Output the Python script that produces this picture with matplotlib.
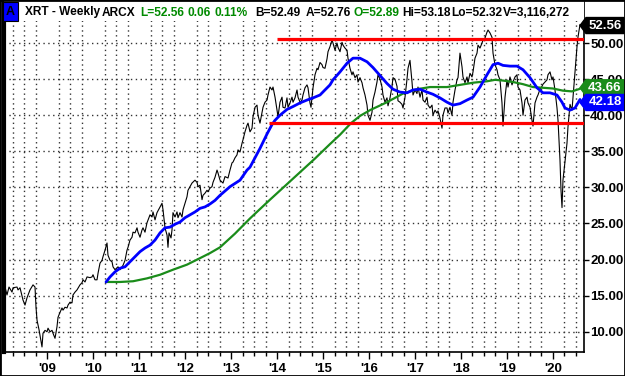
import matplotlib
matplotlib.use('Agg')
import matplotlib.pyplot as plt
from matplotlib.patches import Polygon, Rectangle
from matplotlib.transforms import IdentityTransform
from matplotlib.ticker import FixedLocator, FuncFormatter

# ---------------- data ----------------
ticker_title = "XRT - Weekly"
exchange = "ARCX"
last_close = 52.56
ma_blue_last = 42.18
ma_green_last = 43.66
resistance_level = 50.55
support_level = 38.9
resistance_start = 2014.0
support_start = 2013.83

header_tokens = ["L=52.56", "0.06", "0.11%", "B=52.49", "A=52.76", "O=52.89",
                 "Hi=53.18", "Lo=52.32", "V=3,116,272"]

price_t = [
    2008.065, 2008.087, 2008.130, 2008.174, 2008.239, 2008.261, 2008.348, 2008.370, 2008.413, 2008.478,
    2008.522, 2008.565, 2008.630, 2008.696, 2008.739, 2008.761, 2008.783, 2008.826, 2008.891, 2008.913,
    2008.957, 2009.000, 2009.022, 2009.065, 2009.109, 2009.130, 2009.174, 2009.217, 2009.239, 2009.283,
    2009.326, 2009.348, 2009.391, 2009.435, 2009.457, 2009.500, 2009.543, 2009.565, 2009.609, 2009.652,
    2009.717, 2009.761, 2009.783, 2009.826, 2009.870, 2009.935, 2009.978, 2010.000, 2010.043, 2010.087,
    2010.109, 2010.152, 2010.196, 2010.217, 2010.261, 2010.304, 2010.326, 2010.370, 2010.413, 2010.435,
    2010.478, 2010.543, 2010.587, 2010.630, 2010.652, 2010.696, 2010.739, 2010.761, 2010.804, 2010.848,
    2010.870, 2010.913, 2010.957, 2010.978, 2011.022, 2011.065, 2011.087, 2011.130, 2011.174, 2011.239,
    2011.283, 2011.304, 2011.348, 2011.391, 2011.457, 2011.500, 2011.522, 2011.565, 2011.609, 2011.630,
    2011.652, 2011.696, 2011.717, 2011.739, 2011.783, 2011.826, 2011.848, 2011.891, 2011.935, 2011.957,
    2012.000, 2012.043, 2012.065, 2012.109, 2012.152, 2012.217, 2012.261, 2012.283, 2012.326, 2012.370,
    2012.391, 2012.435, 2012.478, 2012.500, 2012.543, 2012.587, 2012.609, 2012.652, 2012.696, 2012.717,
    2012.761, 2012.826, 2012.870, 2012.935, 2012.978, 2013.022, 2013.043, 2013.087, 2013.130, 2013.152,
    2013.196, 2013.239, 2013.261, 2013.304, 2013.348, 2013.370, 2013.413, 2013.457, 2013.478, 2013.522,
    2013.565, 2013.587, 2013.630, 2013.674, 2013.696, 2013.739, 2013.783, 2013.804, 2013.848, 2013.891,
    2013.913, 2013.957, 2014.000, 2014.022, 2014.065, 2014.109, 2014.130, 2014.174, 2014.217, 2014.239,
    2014.283, 2014.326, 2014.348, 2014.391, 2014.435, 2014.457, 2014.500, 2014.543, 2014.565, 2014.609,
    2014.652, 2014.674, 2014.717, 2014.739, 2014.783, 2014.826, 2014.870, 2014.891, 2014.935, 2014.978,
    2015.000, 2015.043, 2015.087, 2015.109, 2015.152, 2015.196, 2015.217, 2015.261, 2015.304, 2015.326,
    2015.370, 2015.413, 2015.435, 2015.478, 2015.522, 2015.543, 2015.587, 2015.630, 2015.652, 2015.696,
    2015.739, 2015.761, 2015.804, 2015.848, 2015.870, 2015.913, 2015.957, 2015.978, 2016.022, 2016.065,
    2016.087, 2016.130, 2016.174, 2016.196, 2016.239, 2016.283, 2016.304, 2016.348, 2016.391, 2016.413,
    2016.457, 2016.500, 2016.522, 2016.565, 2016.609, 2016.630, 2016.674, 2016.717, 2016.739, 2016.783,
    2016.826, 2016.848, 2016.891, 2016.935, 2016.957, 2017.000, 2017.043, 2017.065, 2017.109, 2017.152,
    2017.174, 2017.217, 2017.261, 2017.283, 2017.326, 2017.370, 2017.391, 2017.435, 2017.478, 2017.500,
    2017.543, 2017.587, 2017.609, 2017.652, 2017.696, 2017.717, 2017.761, 2017.804, 2017.826, 2017.870,
    2017.913, 2017.935, 2017.978, 2018.022, 2018.043, 2018.087, 2018.130, 2018.152, 2018.196, 2018.239,
    2018.261, 2018.304, 2018.348, 2018.370, 2018.413, 2018.457, 2018.478, 2018.522, 2018.565, 2018.587,
    2018.630, 2018.674, 2018.696, 2018.739, 2018.783, 2018.804, 2018.848, 2018.891, 2018.913, 2018.957,
    2019.000, 2019.022, 2019.065, 2019.109, 2019.130, 2019.174, 2019.217, 2019.239, 2019.283, 2019.326,
    2019.348, 2019.391, 2019.435, 2019.457, 2019.500, 2019.543, 2019.565, 2019.609, 2019.652, 2019.674,
    2019.717, 2019.761, 2019.783, 2019.826, 2019.870, 2019.891, 2019.935, 2019.978, 2020.000, 2020.043,
    2020.087, 2020.109, 2020.152, 2020.174, 2020.196, 2020.217, 2020.261, 2020.304, 2020.326, 2020.370,
    2020.413, 2020.435, 2020.478, 2020.522, 2020.543, 2020.587,
]
price_v = [
    17.2, 16.2, 15.1, 16.2, 15.5, 16.1, 16.2, 15.8, 16.1, 14.4,
    13.7, 14.7, 15.8, 16.5, 16.2, 13.4, 11.6, 10.3, 7.9, 9.8,
    10.2, 10.0, 10.5, 10.0, 10.2, 9.8, 9.1, 10.7, 12.0, 12.7,
    13.3, 13.0, 13.4, 13.3, 13.7, 14.1, 14.0, 15.1, 15.5, 15.8,
    16.5, 16.8, 17.2, 16.9, 17.6, 17.5, 17.6, 17.9, 17.2, 17.2,
    18.1, 19.5, 19.9, 20.4, 21.3, 22.3, 20.6, 19.9, 19.7, 19.0,
    18.6, 19.0, 18.6, 19.0, 19.2, 19.9, 21.3, 21.7, 22.7, 23.1,
    23.8, 23.7, 24.4, 23.8, 23.1, 24.1, 24.4, 23.8, 25.1, 26.2,
    25.9, 26.6, 25.5, 26.5, 27.3, 27.8, 26.9, 24.4, 23.4, 21.7,
    23.7, 23.0, 24.1, 26.5, 25.9, 26.6, 25.8, 26.5, 25.9, 26.9,
    27.8, 28.7, 29.6, 30.1, 30.6, 31.0, 30.7, 30.1, 30.3, 28.3,
    28.9, 29.2, 29.6, 29.4, 29.9, 30.1, 30.7, 31.4, 32.4, 32.0,
    31.0, 30.6, 31.5, 31.3, 32.4, 33.4, 33.5, 34.1, 34.5, 35.2,
    34.9, 36.1, 36.6, 37.7, 38.6, 38.9, 37.7, 38.2, 39.8, 41.1,
    41.4, 40.0, 38.9, 40.4, 41.1, 41.8, 42.1, 42.8, 43.9, 43.5,
    43.9, 42.5, 40.7, 39.8, 41.8, 42.5, 41.1, 41.0, 42.4, 41.1,
    41.7, 42.5, 41.8, 42.4, 43.5, 42.5, 41.8, 42.1, 42.8, 43.8,
    44.2, 43.8, 41.7, 41.1, 43.8, 45.6, 46.5, 46.3, 47.3, 47.0,
    46.6, 46.5, 47.8, 48.8, 49.5, 50.4, 50.0, 49.0, 50.0, 49.4,
    48.8, 50.1, 49.7, 49.3, 49.0, 47.9, 46.5, 45.6, 46.0, 45.2,
    45.6, 44.6, 45.2, 44.5, 43.8, 42.8, 41.4, 40.0, 39.3, 40.4,
    42.1, 43.2, 44.6, 45.6, 45.0, 43.9, 42.8, 41.8, 42.4, 41.3,
    42.4, 44.0, 45.2, 45.0, 44.0, 42.0, 41.8, 41.5, 41.0, 42.5,
    45.0, 46.5, 47.6, 44.6, 42.8, 43.5, 43.0, 43.9, 42.5, 43.5,
    42.1, 41.8, 42.5, 41.4, 41.0, 41.4, 40.0, 40.7, 40.3, 40.6,
    39.6, 38.2, 40.0, 41.0, 41.0, 40.3, 41.1, 40.0, 41.8, 43.5,
    44.9, 45.2, 48.6, 46.7, 45.3, 44.5, 45.3, 44.5, 45.8, 45.3,
    46.0, 47.9, 48.6, 49.7, 49.3, 50.0, 50.4, 50.7, 51.5, 51.8,
    51.4, 50.8, 48.6, 47.0, 46.3, 45.6, 44.9, 41.7, 38.5, 42.5,
    44.9, 43.9, 45.3, 44.2, 44.6, 45.3, 45.6, 43.9, 43.5, 41.7,
    40.0, 42.1, 42.5, 41.7, 41.1, 39.3, 38.5, 41.7, 42.5, 42.8,
    43.6, 44.0, 44.3, 44.6, 44.9, 45.6, 46.0, 44.9, 45.3, 43.5,
    41.0, 39.3, 33.8, 29.6, 27.2, 31.0, 33.6, 36.1, 38.4, 41.5,
    40.7, 42.5, 46.0, 49.5, 50.8, 52.56,
]

blue_t = [2010.283, 2010.370, 2010.478, 2010.587, 2010.696, 2010.804, 2010.913, 2011.022, 2011.130, 2011.239,
          2011.348, 2011.457, 2011.565, 2011.674, 2011.783, 2011.891, 2012.000, 2012.109, 2012.217, 2012.326,
          2012.435, 2012.543, 2012.652, 2012.761, 2012.978, 2013.196, 2013.348, 2013.413, 2013.630, 2013.783,
          2013.891, 2013.957, 2014.065, 2014.217, 2014.348, 2014.500, 2014.652, 2014.783, 2014.935, 2015.043,
          2015.152, 2015.217, 2015.370, 2015.522, 2015.652, 2015.804, 2015.957, 2016.087, 2016.239, 2016.391,
          2016.522, 2016.674, 2016.826, 2016.957, 2017.109, 2017.261, 2017.391, 2017.543, 2017.696, 2017.826,
          2017.978, 2018.130, 2018.261, 2018.413, 2018.565, 2018.696, 2018.804, 2018.913, 2019.065, 2019.217,
          2019.348, 2019.500, 2019.652, 2019.783, 2019.935, 2020.087, 2020.196, 2020.261, 2020.370, 2020.478,
          2020.587]
blue_v = [16.9, 17.6, 18.3, 18.8, 19.0, 19.7, 20.4, 21.1, 21.6, 22.0,
          22.7, 23.7, 24.4, 24.5, 24.9, 25.2, 25.8, 26.2, 26.6, 27.1,
          27.3, 27.7, 28.2, 28.9, 30.1, 31.0, 32.4, 32.8, 35.4, 37.4,
          38.7, 39.3, 40.0, 40.8, 41.2, 41.7, 42.1, 42.4, 42.8, 43.5,
          44.2, 44.9, 46.0, 47.2, 47.9, 47.9, 47.4, 46.6, 45.5, 44.4,
          43.6, 43.2, 43.1, 43.5, 43.6, 43.2, 42.9, 42.4, 41.8, 41.4,
          41.6, 42.1, 42.5, 43.9, 45.6, 47.0, 47.2, 46.9, 46.8, 46.8,
          46.3, 45.2, 43.8, 43.1, 43.1, 42.8, 41.8, 41.0, 40.7, 41.0,
          42.18]

green_t = [2010.283, 2010.587, 2010.870, 2011.174, 2011.457, 2011.739, 2012.043, 2012.326, 2012.543, 2012.761,
           2013.087, 2013.413, 2013.630, 2013.848, 2014.174, 2014.500, 2014.826, 2015.152, 2015.370, 2015.609,
           2015.804, 2016.022, 2016.391, 2016.739, 2017.043, 2017.326, 2017.696, 2017.978, 2018.261, 2018.565,
           2018.739, 2018.913, 2019.130, 2019.348, 2019.565, 2019.783, 2020.000, 2020.217, 2020.413, 2020.587]
green_v = [16.9, 16.9, 17.0, 17.4, 17.9, 18.6, 19.3, 20.2, 20.9, 21.7,
           23.6, 25.7, 27.0, 28.3, 30.2, 32.1, 34.0, 36.0, 37.3, 38.9,
           39.9, 40.7, 41.8, 43.0, 43.6, 43.9, 43.9, 44.2, 44.5, 44.7,
           44.9, 44.8, 44.6, 44.3, 43.9, 43.8, 43.7, 43.4, 43.3, 43.66]

year_ticks = [2009, 2010, 2011, 2012, 2013, 2014, 2015, 2016, 2017, 2018, 2019, 2020]
year_labels = ["'09", "'10", "'11", "'12", "'13", "'14", "'15", "'16", "'17", "'18", "'19", "'20"]
price_ticks = [10, 15, 20, 25, 30, 35, 40, 45, 50]

# ---------------- styling ----------------
W, H, DPI = 625, 376, 100
plt.rcParams['font.family'] = ['Liberation Sans', 'DejaVu Sans']
GREEN_TXT = '#008a00'
MA_GREEN = '#1a8c1a'
MA_BLUE = '#0000ff'
GRID = '#333333'
XMIN, XMAX = 2008.065, 2020.674

fig = plt.figure(figsize=(W / DPI, H / DPI), dpi=DPI)
fig.patch.set_facecolor('white')
ax = fig.add_axes([4 / W, (H - 352) / H, 580 / W, 351 / H])
ax.set_xlim(XMIN, XMAX)
ax.set_ylim(7.20, 55.82)

# grid (dotted)
quarters = [y + q * 0.25 for y in range(2008, 2021) for q in range(4)]
quarters = [q for q in quarters if XMIN < q < XMAX]
ax.set_xticks(quarters, minor=True)
ax.grid(True, which='minor', axis='x', color=GRID, lw=1.0, ls=(0, (1, 2.5)), zorder=1)
ax.grid(True, which='major', axis='y', color=GRID, lw=1.0, ls=(0, (1, 2.5)), zorder=1)
ax.set_axisbelow(True)

# series
ax.plot(price_t, price_v, color='black', lw=0.8, zorder=3)
ax.plot(green_t, green_v, color=MA_GREEN, lw=1.6, zorder=4, solid_capstyle='round')
ax.plot(blue_t, blue_v, color=MA_BLUE, lw=2.0, zorder=5, solid_capstyle='round')
ax.plot([resistance_start, XMAX], [resistance_level] * 2, color='#ff0000', lw=2.3, zorder=6,
        solid_capstyle='butt')
ax.plot([support_start, XMAX], [support_level] * 2, color='#ff0000', lw=2.3, zorder=6,
        solid_capstyle='butt')

# axes / ticks
ax.spines['top'].set_visible(False)
ax.spines['left'].set_linewidth(3)
ax.spines['right'].set_linewidth(1.2)
ax.spines['bottom'].set_linewidth(1.2)
ax.yaxis.tick_right()
ax.set_yticks(price_ticks)
ax.yaxis.set_major_formatter(FuncFormatter(lambda v, p: f"{v:.2f}"))
ax.tick_params(axis='y', direction='out', length=3.5, width=1, pad=1, labelsize=9.5)
ax.set_xticks(year_ticks)
ax.set_xticklabels(year_labels)
ax.tick_params(axis='x', which='major', direction='out', length=5, width=1, pad=3, labelsize=9.5)
ax.tick_params(axis='x', which='minor', direction='out', length=3, width=1)
for lab in ax.get_xticklabels() + ax.get_yticklabels():
    lab.set_fontweight('bold')

# header background and text
fig.add_artist(Rectangle((4 / W, 1 - 21 / H), 580 / W, 21 / H, transform=fig.transFigure,
                         facecolor='white', edgecolor='none', zorder=1))
fig.add_artist(Rectangle((3 / W, 1 - 21 / H), 15 / W, 19 / H, transform=fig.transFigure,
                         facecolor='#0000ff', edgecolor='black', lw=0.8, zorder=2))
fig.text(10.5 / W, 1 - 12 / H, 'A', ha='center', va='center', fontsize=9, fontweight='bold',
         color='black')
hy = 1 - 12.5 / H
HFS = 8.6
fig.text(25 / W, hy, ticker_title, ha='left', va='center', fontsize=HFS, fontweight='bold')
fig.text(102 / W, hy, exchange, ha='left', va='center', fontsize=HFS, fontweight='bold')
hx = [140, 187, 215, 255, 306, 353, 402, 451, 503]
hc = [GREEN_TXT, GREEN_TXT, GREEN_TXT, 'black', 'black', GREEN_TXT, 'black', 'black', 'black']
for x, s, c in zip(hx, header_tokens, hc):
    fig.text(x / W, hy, s, ha='left', va='center', fontsize=HFS, fontweight='bold', color=c)

# value tags on the right axis
fig.canvas.draw()
right_px = ax.transAxes.transform((1, 0))[0]


def tag(value, color, dy=0):
    yd = ax.transData.transform((2020.0, value))[1] + dy
    x0 = right_px + 1
    pts = [(x0 - 5, yd), (x0 + 1, yd + 8), (x0 + 39, yd + 8), (x0 + 39, yd - 8), (x0 + 1, yd - 8)]
    fig.add_artist(Polygon(pts, closed=True, transform=IdentityTransform(), facecolor=color,
                           edgecolor=color, zorder=5))
    fig.text(x0 + 20, yd, f"{value:.2f}", transform=IdentityTransform(), ha='center', va='center',
             fontsize=9.5, fontweight='bold', color='white', zorder=6)


tag(last_close, 'black', -1)
tag(ma_green_last, MA_GREEN, 1)
tag(ma_blue_last, MA_BLUE, -3)

# outer frame
fig.add_artist(Rectangle((0, 0), 1, 1, transform=fig.transFigure, facecolor='none',
                         edgecolor='black', lw=2, zorder=10))

fig.savefig('out.png', dpi=DPI)
